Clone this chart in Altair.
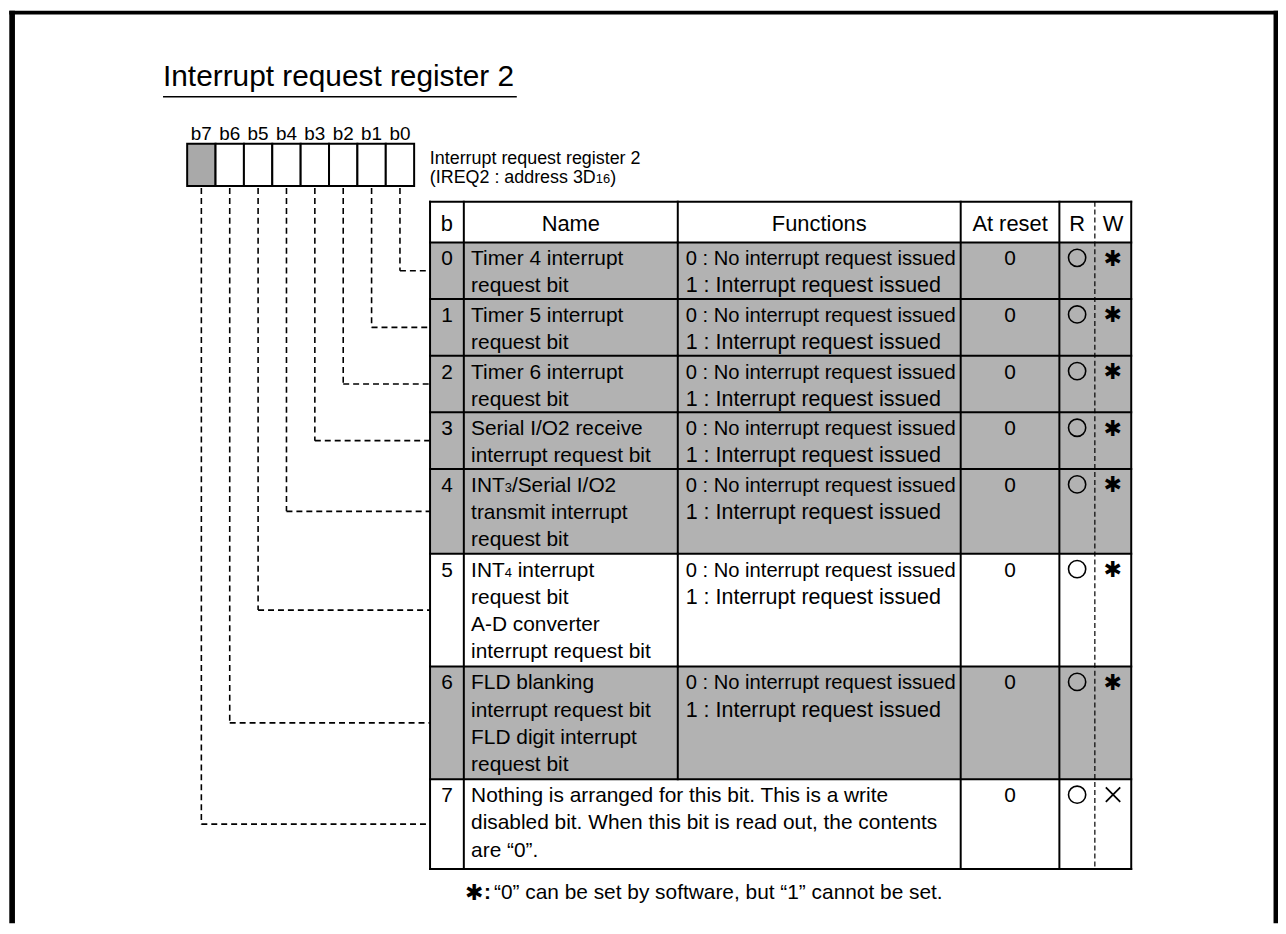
import re
import altair as alt
import pandas as pd

# ---------------- content ----------------
TITLE = "Interrupt request register 2"
REGISTER_NAME = "Interrupt request register 2"
REGISTER_ADDR = "(IREQ2 : address 3D{16})"          # {..} = small (subscript) text
BIT_LABELS = ["b7", "b6", "b5", "b4", "b3", "b2", "b1", "b0"]
BIT_BOX_SHADED = [True, False, False, False, False, False, False, False]
HEADERS = ["b", "Name", "Functions", "At reset", "R", "W"]
BIT_NUMBERS = ["0", "1", "2", "3", "4", "5", "6", "7"]
NAME_LINES = [
    ["Timer 4 interrupt", "request bit"],
    ["Timer 5 interrupt", "request bit"],
    ["Timer 6 interrupt", "request bit"],
    ["Serial I/O2 receive", "interrupt request bit"],
    ["INT{3}/Serial I/O2", "transmit interrupt", "request bit"],
    ["INT{4} interrupt", "request bit", "A-D converter", "interrupt request bit"],
    ["FLD blanking", "interrupt request bit", "FLD digit interrupt", "request bit"],
    ["Nothing is arranged for this bit. This is a write",
     "disabled bit. When this bit is read out, the contents",
     "are \u201c0\u201d."],
]
FUNC_0 = "0 : No interrupt request issued"
FUNC_1 = "1 : Interrupt request issued"
FUNCTION_LINES = [[FUNC_0, FUNC_1]] * 7 + [[]]
RESET_VALUES = ["0", "0", "0", "0", "0", "0", "0", "0"]
READ_MARKS = ["circle"] * 8
WRITE_MARKS = ["asterisk"] * 7 + ["cross"]
ROW_SHADED = [True, True, True, True, True, False, True, False]
ASTERISK = "\u2731"
FOOTNOTE_TEXT = "\u201c0\u201d can be set by software, but \u201c1\u201d cannot be set."

# ---------------- layout / style ----------------
W, H = 1278, 918            # drawing area, page coordinates start at 8,8
FONT = "Liberation Sans"
SYM_FONT = "DejaVu Sans"
GRAY = "#b2b2b2"
BOX_GRAY = "#a9a9a9"

TITLE_X, TITLE_BASE, TITLE_SIZE = 164, 83.5, 30
UNDERLINE_Y, UNDERLINE_X2 = 94.5, 520

BOX_X0, BOX_W, BOX_TOP, BOX_BOTTOM = 188.3, 28.55, 141.7, 184.3
BIT_LABEL_BASE, BIT_LABEL_SIZE = 138.3, 19

SUB_X, SUB_BASE1, SUB_BASE2, SUB_SIZE, SMALL_SIZE = 432.5, 162.0, 181.0, 18, 13

COLS = [432.7, 466.7, 682.0, 966.7, 1066.0, 1101.7, 1138.3]
TABLE_TOP, HEADER_BOTTOM = 200.0, 241.0
LINE_UNIT, ROW_PAD, LAST_ROW_EXTRA = 28.25, 0.5, 5.0
FIRST_BASE, LINE_PITCH = 23.0, 27.4
HEADER_BASE, HEADER_SIZE = 229.5, 22
BODY_SIZE, FUNC0_SIZE, FUNC1_SIZE = 21, 20.3, 21.6
NAME_X, FUNC_X = 474, 690

FOOT_BASE = 902

ARIAL = {" ": 278, "I": 278, "N": 722, "T": 611, "(": 333, ")": 333, "R": 722, "E": 667,
         "Q": 778, ":": 278, "a": 556, "d": 556, "r": 333, "e": 556, "s": 500, "D": 722,
         "/": 278, "S": 667, "i": 222, "l": 222, "O": 778, "n": 556, "t": 278, "u": 556,
         "p": 556, "f": 278}


def text_width(s, size):
    return sum(ARIAL.get(c, 556) for c in s) * size / 1000.0


def segments(line):
    out = []
    for p in re.split(r"(\{[^}]*\})", line):
        if not p:
            continue
        out.append((p[1:-1], True) if p.startswith("{") else (p, False))
    return out


def place_line(line, x, y, size, recs):
    cx = x
    for txt, small in segments(line):
        fs = SMALL_SIZE if small else size
        stripped = txt.lstrip(" ")
        lead = text_width(txt[: len(txt) - len(stripped)], fs)
        recs.append({"x": cx + lead, "y": y, "text": stripped, "fs": fs})
        cx += text_width(txt, fs)


# ---------------- derived tables ----------------
rows = []
top = HEADER_BOTTOM
for i, lines in enumerate(NAME_LINES):
    n = max(len(lines), len(FUNCTION_LINES[i]))
    h = n * LINE_UNIT + ROW_PAD + (LAST_ROW_EXTRA if i == len(NAME_LINES) - 1 else 0)
    rows.append((top, top + h))
    top += h
TABLE_BOTTOM = top

XS = alt.Scale(domain=[8, 8 + W], nice=False, zero=False)
YS = alt.Scale(domain=[8, 8 + H], nice=False, zero=False, reverse=True)


def enc(two=False, **kw):
    e = dict(x=alt.X("x:Q", scale=XS, axis=None), y=alt.Y("y:Q", scale=YS, axis=None))
    if two:
        e["x2"] = alt.X2("x2:Q")
        e["y2"] = alt.Y2("y2:Q")
    e.update(kw)
    return e


def text_layer(records, align, font, weight="normal"):
    return alt.Chart(pd.DataFrame(records)).mark_text(
        align=align, baseline="alphabetic", font=font, fontWeight=weight, color="black"
    ).encode(**enc(text="text:N", size=alt.Size("fs:Q", scale=None)))


layers = []

# frame
frame = pd.DataFrame([
    {"x": 9.3, "x2": 15.0, "y": 8, "y2": 8 + H},
    {"x": 9.3, "x2": 1286, "y": 8, "y2": 11.7},
    {"x": 1281.5, "x2": 1286, "y": 8, "y2": 8 + H},
])
layers.append(alt.Chart(frame).mark_rect(fill="black").encode(**enc(True)))

# shaded rows
shade = pd.DataFrame([{"x": COLS[0], "x2": COLS[-1], "y": r[0], "y2": r[1]}
                      for r, s in zip(rows, ROW_SHADED) if s])
layers.append(alt.Chart(shade).mark_rect(fill=GRAY).encode(**enc(True)))

# register boxes
boxes = pd.DataFrame([{"x": BOX_X0 + j * BOX_W, "x2": BOX_X0 + (j + 1) * BOX_W,
                       "y": BOX_TOP, "y2": BOX_BOTTOM,
                       "fill": BOX_GRAY if s else "white"}
                      for j, s in enumerate(BIT_BOX_SHADED)])
layers.append(alt.Chart(boxes).mark_rect(stroke="black", strokeWidth=2).encode(
    **enc(True, fill=alt.Fill("fill:N", scale=None))))

# table grid (solid)
grid = []
for yb in [TABLE_TOP, HEADER_BOTTOM] + [r[1] for r in rows]:
    grid.append({"x": COLS[0], "x2": COLS[-1], "y": yb, "y2": yb})
for cx in [COLS[0], COLS[1], COLS[3], COLS[4], COLS[6]]:
    grid.append({"x": cx, "x2": cx, "y": TABLE_TOP, "y2": TABLE_BOTTOM})
grid.append({"x": COLS[2], "x2": COLS[2], "y": TABLE_TOP, "y2": HEADER_BOTTOM})
for r, f in zip(rows, FUNCTION_LINES):
    if f:
        grid.append({"x": COLS[2], "x2": COLS[2], "y": r[0], "y2": r[1]})
layers.append(alt.Chart(pd.DataFrame(grid)).mark_rule(color="black", strokeWidth=2,
                                                      strokeCap="square").encode(**enc(True)))

# R | W dashed divider
rw = pd.DataFrame([{"x": COLS[5], "x2": COLS[5], "y": TABLE_TOP, "y2": TABLE_BOTTOM}])
layers.append(alt.Chart(rw).mark_rule(color="black", strokeWidth=1.2, strokeDash=[5, 3]).encode(**enc(True)))

# connectors from bits to rows
conn = []
for k in range(8):
    j = 7 - k
    bx = BOX_X0 + BOX_W * (j + 0.5)
    ym = (rows[k][0] + rows[k][1]) / 2
    conn.append({"x": bx, "x2": bx, "y": BOX_BOTTOM + 2, "y2": ym})
    conn.append({"x": bx, "x2": COLS[0], "y": ym, "y2": ym})
layers.append(alt.Chart(pd.DataFrame(conn)).mark_rule(color="black", strokeWidth=1.6,
                                                      strokeDash=[6, 4]).encode(**enc(True)))

# title underline
ul = pd.DataFrame([{"x": TITLE_X, "x2": UNDERLINE_X2, "y": UNDERLINE_Y, "y2": UNDERLINE_Y}])
layers.append(alt.Chart(ul).mark_rule(color="black", strokeWidth=1.5).encode(**enc(True)))

# ---------------- texts ----------------
left_txt = [{"x": TITLE_X, "y": TITLE_BASE, "text": TITLE, "fs": TITLE_SIZE},
            {"x": SUB_X, "y": SUB_BASE1, "text": REGISTER_NAME, "fs": SUB_SIZE}]
place_line(REGISTER_ADDR, SUB_X, SUB_BASE2, SUB_SIZE, left_txt)

center_txt = []
for j, lab in enumerate(BIT_LABELS):
    center_txt.append({"x": BOX_X0 + BOX_W * (j + 0.5), "y": BIT_LABEL_BASE, "text": lab, "fs": BIT_LABEL_SIZE})
head_cx = [(COLS[0] + COLS[1]) / 2, (COLS[1] + COLS[2]) / 2, (COLS[2] + COLS[3]) / 2,
           (COLS[3] + COLS[4]) / 2, (COLS[4] + COLS[5]) / 2, (COLS[5] + COLS[6]) / 2]
for cx, h in zip(head_cx, HEADERS):
    center_txt.append({"x": cx, "y": HEADER_BASE, "text": h, "fs": HEADER_SIZE})

circles, crosses, stars = [], [], []
for i, (r0, r1) in enumerate(rows):
    base = r0 + FIRST_BASE
    center_txt.append({"x": head_cx[0], "y": base, "text": BIT_NUMBERS[i], "fs": BODY_SIZE})
    center_txt.append({"x": head_cx[3], "y": base, "text": RESET_VALUES[i], "fs": BODY_SIZE})
    for li, line in enumerate(NAME_LINES[i]):
        place_line(line, NAME_X, base + li * LINE_PITCH, BODY_SIZE, left_txt)
    for li, line in enumerate(FUNCTION_LINES[i]):
        place_line(line, FUNC_X, base + li * LINE_PITCH, FUNC0_SIZE if li == 0 else FUNC1_SIZE, left_txt)
    if READ_MARKS[i] == "circle":
        circles.append({"x": head_cx[4], "y": r0 + 15.5})
    if WRITE_MARKS[i] == "cross":
        crosses.append({"x": head_cx[5], "y": r0 + 15.5})
    else:
        stars.append({"x": head_cx[5] - 0.5, "y": base + 0.5, "text": ASTERISK, "fs": 22})

left_txt.append({"x": 497, "y": FOOT_BASE, "text": FOOTNOTE_TEXT, "fs": 21})

layers.append(text_layer(left_txt, "left", FONT))
layers.append(text_layer(center_txt, "center", FONT))
layers.append(text_layer(stars + [{"x": 477, "y": FOOT_BASE + 0.5, "text": ASTERISK, "fs": 22}],
                         "center", SYM_FONT, "bold"))
layers.append(text_layer([{"x": 487, "y": FOOT_BASE, "text": ":", "fs": 21}], "left", FONT, "bold"))

layers.append(alt.Chart(pd.DataFrame(circles)).mark_point(
    shape="circle", size=300, filled=False, color="black", strokeWidth=1.6, opacity=1).encode(**enc()))
layers.append(alt.Chart(pd.DataFrame(crosses)).mark_point(
    shape="M-1,-1L1,1M-1,1L1,-1", size=210, filled=False, color="black", strokeWidth=1.8,
    opacity=1).encode(**enc()))

chart = alt.layer(*layers).properties(
    width=W, height=H, padding=0, autosize=alt.AutoSizeParams(type="none")
).configure_view(strokeWidth=0)

chart.save("out.html", embed_options={"renderer": "svg", "actions": False})
